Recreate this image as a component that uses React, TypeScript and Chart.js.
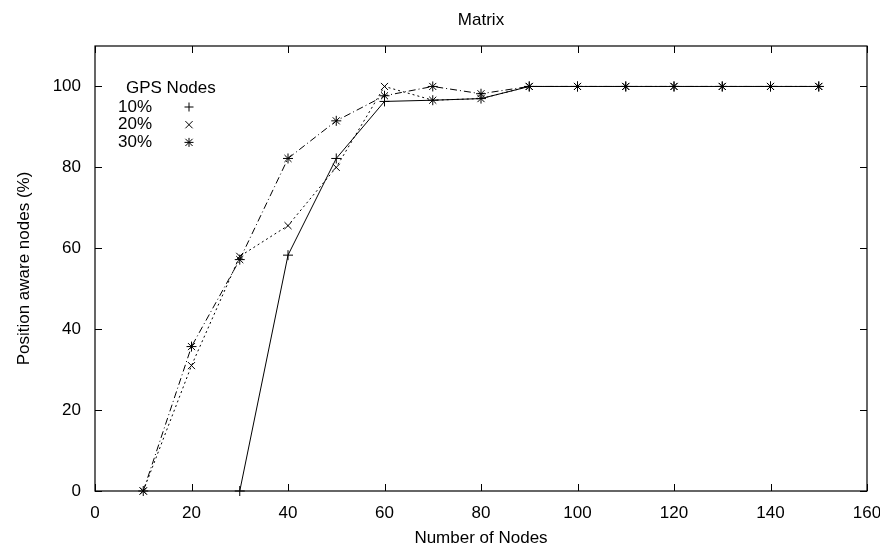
import React, { useEffect, useRef } from "react";
import { Chart, registerables } from "chart.js";

Chart.register(...registerables);

const nodes = [10, 20, 30, 40, 50, 60, 70, 80, 90, 100, 110, 120, 130, 140, 150];
const gps10: (number | null)[] = [null, null, 0, 58.3, 82.2, 96.3, 96.6, 97.0, 100, 100, 100, 100, 100, 100, 100];
const gps20: (number | null)[] = [0, 31.0, 58.0, 65.6, 80.0, 100, 96.6, 97.0, 100, 100, 100, 100, 100, 100, 100];
const gps30: (number | null)[] = [0, 35.7, 57.2, 82.2, 91.5, 97.7, 100, 98.2, 100, 100, 100, 100, 100, 100, 100];
const seriesLabels = ["10%", "20%", "30%"];
const legendTitle = "GPS Nodes";
const chartTitle = "Matrix";
const xTitle = "Number of Nodes";
const yTitle = "Position aware nodes (%)";
const xTicks = [0, 20, 40, 60, 80, 100, 120, 140, 160];
const yTicks = [0, 20, 40, 60, 80, 100];

const FONT = "'Liberation Sans', Arial, Helvetica, sans-serif";

function toPoints(vals: (number | null)[]) {
  return nodes.map((x, i) => ({ x, y: vals[i] }));
}

function drawMarker(ctx: CanvasRenderingContext2D, style: string, x: number, y: number, r: number) {
  ctx.beginPath();
  if (style === "cross" || style === "star") {
    ctx.moveTo(x - r, y);
    ctx.lineTo(x + r, y);
    ctx.moveTo(x, y - r);
    ctx.lineTo(x, y + r);
  }
  if (style === "crossRot" || style === "star") {
    const d = r * 0.8;
    ctx.moveTo(x - d, y - d);
    ctx.lineTo(x + d, y + d);
    ctx.moveTo(x - d, y + d);
    ctx.lineTo(x + d, y - d);
  }
  ctx.stroke();
}

const decorPlugin = {
  id: "decor",
  afterDraw(chart: any) {
    const { ctx, chartArea } = chart;
    const { left, right, top, bottom } = chartArea;
    const xs = chart.scales.x;
    const ys = chart.scales.y;
    ctx.save();
    ctx.strokeStyle = "#000";
    ctx.lineWidth = 1.2;
    ctx.setLineDash([]);
    ctx.strokeRect(left, top, right - left, bottom - top);
    const tl = 7;
    ctx.beginPath();
    xTicks.forEach((v) => {
      const px = Math.round(xs.getPixelForValue(v)) + 0.5;
      ctx.moveTo(px, bottom);
      ctx.lineTo(px, bottom - tl);
      ctx.moveTo(px, top);
      ctx.lineTo(px, top + tl);
    });
    yTicks.forEach((v) => {
      const py = Math.round(ys.getPixelForValue(v)) + 0.5;
      ctx.moveTo(left, py);
      ctx.lineTo(left + tl, py);
      ctx.moveTo(right, py);
      ctx.lineTo(right - tl, py);
    });
    ctx.lineWidth = 1;
    ctx.stroke();

    // title
    ctx.fillStyle = "#000";
    ctx.font = `17px ${FONT}`;
    ctx.textAlign = "center";
    ctx.textBaseline = "middle";
    ctx.fillText(chartTitle, (left + right) / 2, 20);

    // legend
    ctx.textAlign = "left";
    ctx.fillText(legendTitle, left + 31, top + 42);
    const styles = ["cross", "crossRot", "star"];
    seriesLabels.forEach((lab, i) => {
      const y = top + 61 + i * 17.7;
      ctx.fillText(lab, left + 23, y);
      ctx.lineWidth = 1;
      drawMarker(ctx, styles[i], left + 94, y, 4.5);
    });
    ctx.restore();
  },
};

export default function App() {
  const ref = useRef<HTMLCanvasElement>(null);
  useEffect(() => {
    document.body.style.margin = "0";
    const canvas = ref.current!;
    const common = {
      borderColor: "#000",
      backgroundColor: "#000",
      borderWidth: 1,
      pointRadius: 5,
      pointBorderWidth: 1,
      pointBorderColor: "#000",
      clip: false as any,
    };
    const chart = new Chart(canvas, {
      type: "line",
      data: {
        datasets: [
          { ...common, label: seriesLabels[0], data: toPoints(gps10) as any, pointStyle: "cross" },
          { ...common, label: seriesLabels[1], data: toPoints(gps20) as any, pointStyle: "crossRot", borderDash: [2, 3] },
          { ...common, label: seriesLabels[2], data: toPoints(gps30) as any, pointStyle: "star", borderDash: [7, 3, 1, 3] },
        ],
      },
      options: {
        responsive: false,
        animation: false,
        layout: { padding: { left: 0, right: 13, top: 46, bottom: 0 } },
        plugins: {
          legend: { display: false },
          title: { display: false },
          tooltip: { enabled: false },
        },
        elements: { line: { tension: 0 } },
        scales: {
          x: {
            type: "linear",
            min: 0,
            max: 160,
            grid: { display: false, drawTicks: false },
            border: { display: false },
            ticks: {
              stepSize: 20,
              padding: 12,
              color: "#000",
              font: { family: FONT, size: 17 },
              maxRotation: 0,
            },
            title: {
              display: true,
              text: xTitle,
              color: "#000",
              font: { family: FONT, size: 17 },
              padding: { top: 0, bottom: 0 },
            },
            afterFit: (s: any) => {
              s.height = 58;
              s.paddingLeft = 0;
              s.paddingRight = 0;
            },
          },
          y: {
            type: "linear",
            min: 0,
            max: 110,
            grid: { display: false, drawTicks: false },
            border: { display: false },
            afterBuildTicks: (s: any) => {
              s.ticks = yTicks.map((v) => ({ value: v }));
            },
            ticks: {
              stepSize: 20,
              padding: 14,
              color: "#000",
              font: { family: FONT, size: 17 },
            },
            title: {
              display: true,
              text: yTitle,
              color: "#000",
              font: { family: FONT, size: 17 },
              padding: { top: 14, bottom: 0 },
            },
            afterFit: (s: any) => {
              s.width = 95;
              s.paddingTop = 0;
              s.paddingBottom = 0;
            },
          },
        },
      },
      plugins: [decorPlugin],
    });
    return () => chart.destroy();
  }, []);
  return (
    <div style={{ position: "absolute", left: 0, top: 0, width: 880, height: 549 }}>
      <canvas ref={ref} width={880} height={549} />
    </div>
  );
}
